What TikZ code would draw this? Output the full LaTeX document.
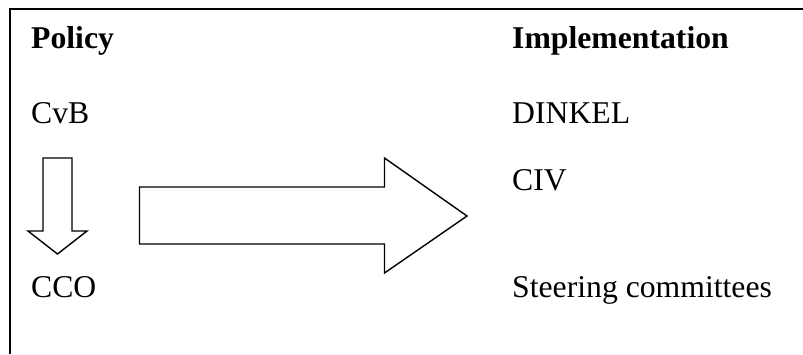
\documentclass[tikz,border=0pt]{standalone}
\usepackage{fontspec}
\setmainfont{Liberation Serif}
\begin{document}
\begin{tikzpicture}[x=1pt,y=-1pt,
  lbl/.style={anchor=base west,inner sep=0pt,font=\fontsize{31.7}{38}\selectfont},
  hdr/.style={lbl,font=\fontsize{31.7}{38}\selectfont\bfseries},
  blockarrow/.style={draw=black,line width=1.4pt,line join=miter,fill=white}]
\useasboundingbox (0,0) rectangle (803,354);
\draw[line width=2.4pt] (9.7,354) -- (9.7,8.7) -- (803,8.7);
\node[hdr] (policy) at (31,48) {Policy};
\node[hdr] (impl) at (512,48) {Implementation};
\node[lbl] (cvb) at (31,123) {CvB};
\node[lbl] (dinkel) at (512,123) {DINKEL};
\node[lbl] (civ) at (512,190.5) {CIV};
\node[lbl] (cco) at (31,297) {CCO};
\node[lbl] (steer) at (512,297) {Steering committees};
\draw[blockarrow] (43,158) -- (72,158) -- (72,231) -- (87,231) -- (57.5,254) -- (28,231) -- (43,231) -- cycle;
\draw[blockarrow] (139.5,187) -- (384.5,187) -- (384.5,158) -- (467,216) -- (384.5,273) -- (384.5,244) -- (139.5,244) -- cycle;
\end{tikzpicture}
\end{document}
